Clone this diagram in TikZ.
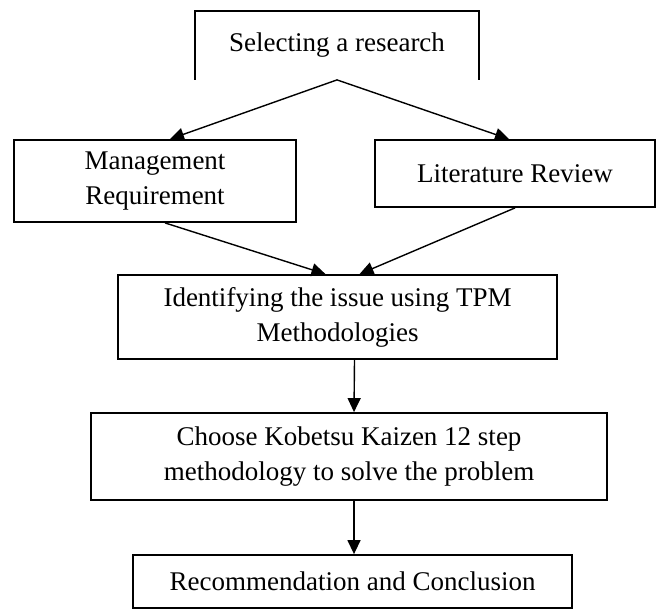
\documentclass[tikz,border=0pt]{standalone}
\usepackage{fontspec}
\setmainfont{Liberation Serif}
\usetikzlibrary{arrows.meta}
\usetikzlibrary{positioning}
\usetikzlibrary{calc}

\begin{document}
\begin{tikzpicture}[
			x = 1pt, y = -1pt,
			box/.style = {
				draw = black, line width = 1.8pt, rectangle,
				align = center, inner sep = 0,
				font = \fontsize{27}{35}\selectfont,
			},
			flow/.style = {
				line width = 1.4pt, draw = black,
				-{Triangle[length = 14pt, width = 13pt]},
			},
		]

		\useasboundingbox (0, 0) rectangle (660, 610);

		% top, drawn open at the bottom
		\node[
			box, draw = none,
			minimum width = 282pt, minimum height = 67pt,
		] (select) at (337, 45.5) {\raisebox{4pt}{Selecting a research}};
		\draw[line width = 1.8pt] (select.south west) -- (select.north west)
			-- (select.north east) -- (select.south east);

		\node[
			box, minimum width = 282pt, minimum height = 82pt,
		] (mgmt) at (155, 181) {Management\\Requirement};
		\node[
			box, minimum width = 280pt, minimum height = 67pt,
		] (review) at (515, 173.5) {Literature Review};

		\node[
			box, minimum width = 439pt, minimum height = 84pt,
		] (ident) at (337.5, 317) {Identifying the issue using TPM\\Methodologies};
		\node[
			box, minimum width = 516pt, minimum height = 87pt,
		] (choose) at (349, 456.5) {Choose Kobetsu Kaizen 12 step\\methodology to solve the problem};
		\node[
			box, minimum width = 439pt, minimum height = 53pt,
		] (recom) at (352.5, 581.5) {Recommendation and Conclusion};

		\draw[flow] (select.south) to ($(mgmt.north) + (15, 0)$);
		\draw[flow] (select.south) to ($(review.north) + (-6, 0)$);
		\draw[flow] ($(mgmt.south) + (10, 0)$) to ($(ident.north) + (-12, 0)$);
		\draw[flow] (review.south) to ($(ident.north) + (22, 0)$);
		\draw[flow] ($(ident.south) + (17, 0)$) to ($(choose.north) + (5, 0)$);
		\draw[flow] ($(choose.south) + (5, 0)$) to ($(recom.north) + (1.5, 0)$);

	\end{tikzpicture}
\end{document}
